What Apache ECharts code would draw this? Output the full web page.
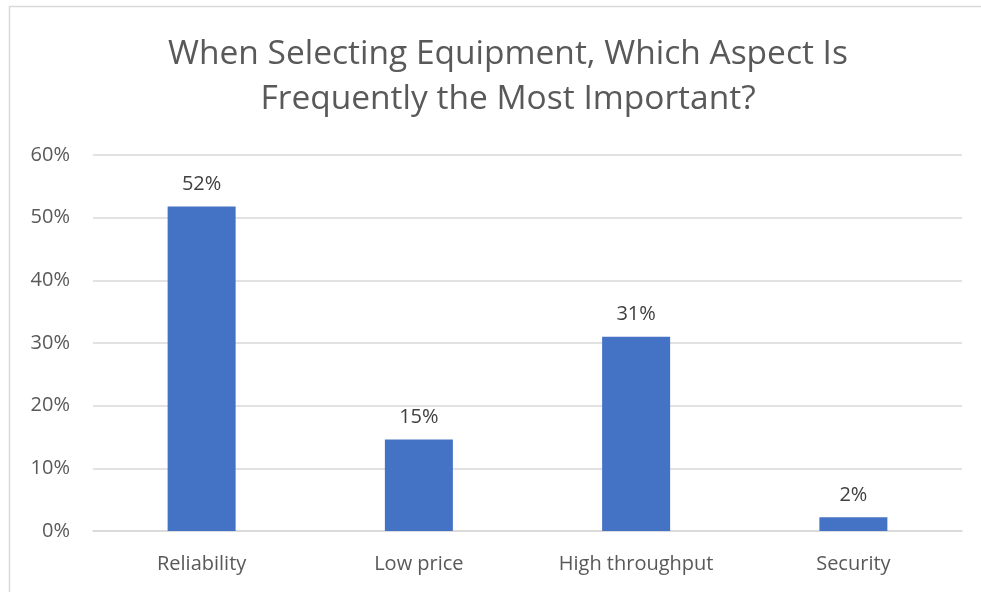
<!DOCTYPE html>
<html><head><meta charset="utf-8">
<script src="https://cdn.jsdelivr.net/npm/echarts@6/dist/echarts.min.js"></script>
<style>html,body{margin:0;padding:0;background:#fff;}#c{width:981px;height:592px;}</style>
</head><body><div id="c"></div>
<script>
const categories = ['Reliability', 'Low price', 'High throughput', 'Security'];
const values = [51.8, 14.6, 31.0, 2.2];
const labels = ['52%', '15%', '31%', '2%'];
const yTicks = [0, 10, 20, 30, 40, 50, 60];

const chart = echarts.init(document.getElementById('c'));
const font = '"Open Sans", "Noto Sans", sans-serif';
chart.setOption({
  animation: false,
  textStyle: { fontFamily: font },
  graphic: [{ type: 'rect', shape: { x: 9.5, y: 6.5, width: 1000, height: 700 }, style: { fill: 'none', stroke: '#d9d9d9', lineWidth: 1.5 }, silent: true }],
  title: {
    text: 'When Selecting Equipment, Which Aspect Is\nFrequently the Most Important?',
    left: 503, top: 27, textAlign: 'center',
    textStyle: { fontFamily: font, fontSize: 33.5, fontWeight: 'normal', color: '#595959', lineHeight: 45 }
  },
  grid: { left: 93, right: 19, top: 155, bottom: 61 },
  xAxis: {
    type: 'category', data: categories,
    axisLine: { lineStyle: { color: '#d9d9d9', width: 1.5 } },
    axisTick: { show: false },
    axisLabel: { color: '#595959', fontSize: 20, margin: 23, fontFamily: font }
  },
  yAxis: {
    type: 'value', min: yTicks[0], max: yTicks[yTicks.length - 1], interval: 10,
    axisLine: { show: false }, axisTick: { show: false },
    splitLine: { lineStyle: { color: '#d9d9d9', width: 1.5 } },
    axisLabel: { color: '#595959', fontSize: 20, margin: 23, fontFamily: font, formatter: v => v + '%' }
  },
  series: [{
    type: 'bar', data: values, barWidth: 68,
    itemStyle: { color: '#4472C4' },
    label: { show: true, position: 'top', distance: 12, color: '#404040', fontSize: 20, fontFamily: font,
      formatter: p => labels[p.dataIndex] }
  }]
});
</script></body></html>
